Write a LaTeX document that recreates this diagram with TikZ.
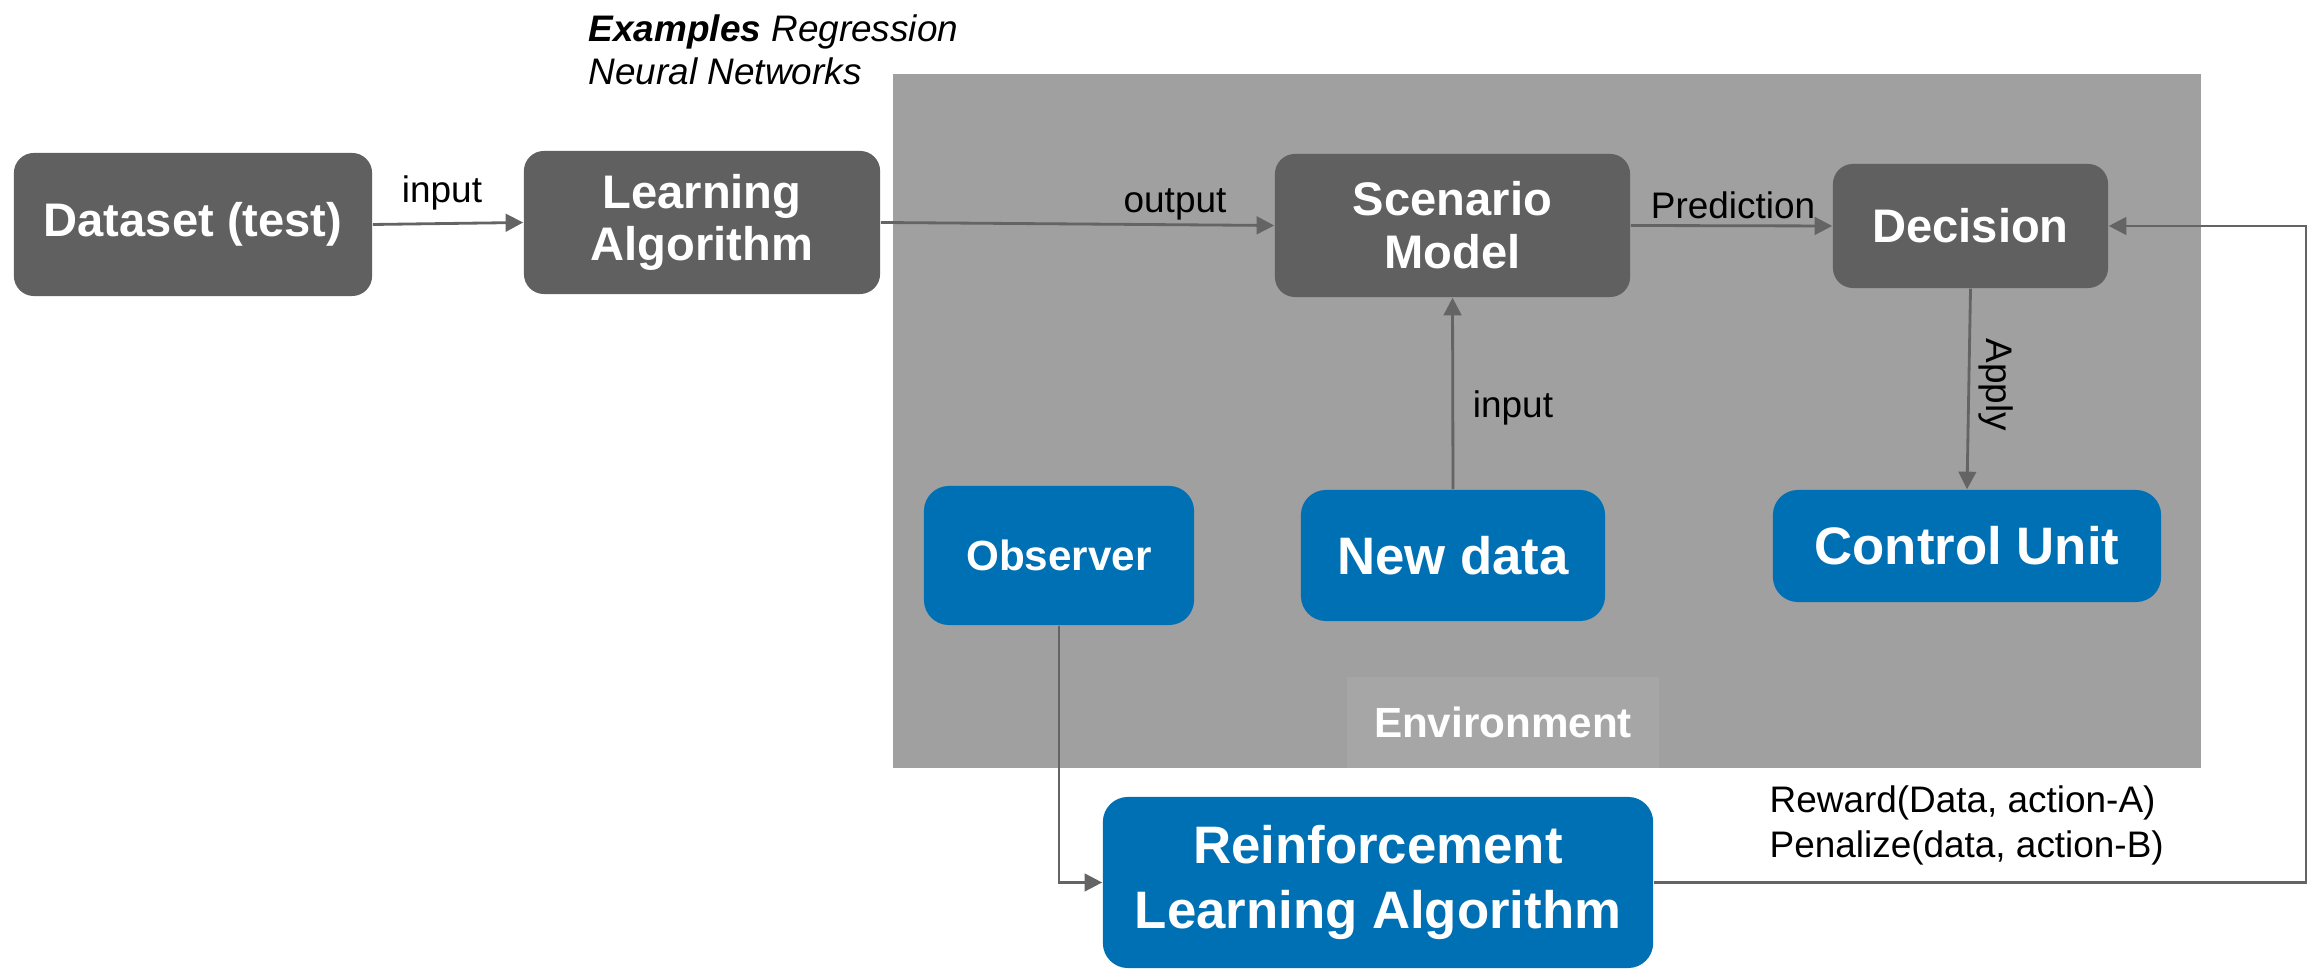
\documentclass[tikz,border=0pt]{standalone}
\usepackage{fontspec}
\setmainfont{Liberation Sans}
\usetikzlibrary{arrows.meta}
\definecolor{boxgray}{RGB}{96,96,96}
\definecolor{envgray}{RGB}{160,160,160}
\definecolor{envlabel}{RGB}{166,166,166}
\definecolor{rlblue}{RGB}{0,112,180}
\definecolor{linegray}{RGB}{100,100,100}
\tikzset{
  graybox/.style={fill=boxgray, rounded corners=0.2cm, text=white, inner sep=0pt,
    font=\fontsize{13.4}{15}\selectfont\bfseries, align=center},
  bluebox/.style={fill=rlblue, rounded corners=0.25cm, text=white, inner sep=0pt,
    font=\fontsize{15}{18.5}\selectfont\bfseries, align=center},
  lbl/.style={font=\fontsize{10.5}{12.2}\selectfont, inner sep=0pt},
  link/.style={draw=linegray, line width=0.8pt, -{Triangle[length=5pt,width=5pt]}},
}
\begin{document}
\begin{tikzpicture}[x=0.01cm, y=-0.01cm]
  \useasboundingbox (0,0) rectangle (2309,971);
  %environment block
  \fill[envgray] (893,74) rectangle (2201,768);
  \node [fill=envlabel, minimum width=3.12cm, minimum height=0.91cm, text=white,
    font=\fontsize{12}{14}\selectfont\bfseries] (envlbl) at (1503,722.5) {Environment};

  %top row
  \node [graybox, minimum width=3.58cm, minimum height=1.43cm] (data) at (193,224.5) {Dataset (test)};
  \node [graybox, minimum width=3.56cm, minimum height=1.43cm] (learn) at (702,222.5) {Learning\\Algorithm};
  \node [graybox, minimum width=3.55cm, minimum height=1.43cm] (scen) at (1452.5,225.5) {Scenario\\Model};
  \node [graybox, minimum width=2.75cm, minimum height=1.24cm] (dec) at (1970.5,226) {Decision};

  %blue boxes
  \node [bluebox, minimum width=2.70cm, minimum height=1.39cm, font=\fontsize{12}{14}\selectfont\bfseries] (obs) at (1059,555.5) {Observer};
  \node [bluebox, minimum width=3.04cm, minimum height=1.31cm] (new) at (1453,555.5) {New data};
  \node [bluebox, minimum width=3.88cm, minimum height=1.12cm] (ctrl) at (1967,546) {Control Unit};
  \node [bluebox, minimum width=5.50cm, minimum height=1.71cm] (rl) at (1378,882.5) {Reinforcement\\Learning Algorithm};

  %text labels
  \node [lbl, anchor=west, align=left] (examples) at (588,49.5)
    {\textbf{\textit{Examples}} \textit{Regression}\\\textit{Neural Networks}};
  \node [lbl] (inlbl) at (442,193) {input};
  \node [lbl] (outlbl) at (1175,204) {output};
  \node [lbl] (predlbl) at (1733,205) {Prediction};
  \node [lbl] (newlbl) at (1513,408) {input};
  \node [lbl, rotate=-90] (applylbl) at (1996,385) {Apply};
  \node [lbl, anchor=west, align=left, font=\fontsize{10.5}{12.8}\selectfont] (rewlbl) at (1769,825)
    {Reward(Data, action-A)\\Penalize(data, action-B)};

  %links
  \coordinate (fbk) at (2306,885);
  \draw[link] (data.east) -- (learn.west);
  \draw[link] (learn.east) -- (scen.west);
  \draw[link] (scen.east) -- (dec.west);
  \draw[link] (new.north) -- (scen.south);
  \draw[link] (dec.south) -- (ctrl.north);
  \draw[link] (obs.south) |- (rl.west);
  \draw[link] (rl.east) -- (rl.east -| fbk) -- (dec.east -| fbk) -- (dec.east);
\end{tikzpicture}
\end{document}
